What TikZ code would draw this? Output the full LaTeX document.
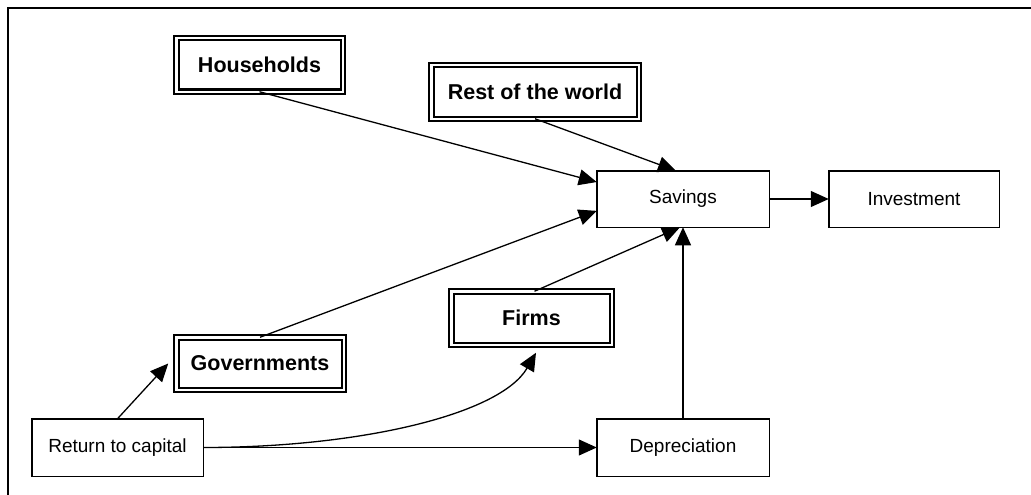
\documentclass[tikz,border=0pt]{standalone}
\usepackage{fontspec}
\setmainfont{Liberation Sans}
\usetikzlibrary{arrows.meta,calc}

\tikzset{
  plainbox/.style={draw, line width=1.5pt, rectangle, inner sep=0pt, outer sep=0pt,
    font=\fontsize{19}{22}\selectfont},
  sectorbox/.style={draw, line width=2pt, double, double distance=2.5pt, rectangle,
    inner sep=0pt, outer sep=0pt, font=\bfseries\fontsize{21.5}{25}\selectfont},
  flow/.style={line width=1.3pt, -{Triangle[length=18pt,width=16pt]}},
}

\begin{document}
\begin{tikzpicture}[x=1pt, y=-1pt]
  \useasboundingbox (0,0) rectangle (1031,495);

  % outer frame (top and left edges)
  \draw[line width=2pt] (8,495) -- (8,8) -- (1031,8);

  % institutional sectors
  \node[sectorbox, minimum width=166.5pt, minimum height=53.5pt] (hh)   at (259.5,65)   {Households};
  \node[sectorbox, minimum width=207.5pt, minimum height=53.5pt] (rest) at (535,92)     {Rest of the world};
  \node[sectorbox, minimum width=167.5pt, minimum height=52.5pt] (gov)  at (260,363.5)  {Governments};
  \node[sectorbox, minimum width=160.5pt, minimum height=53.5pt] (firm) at (531.5,318)  {Firms};

  % flows
  \node[plainbox, minimum width=172.5pt, minimum height=56.5pt] (sav) at (683,199)   {Savings};
  \node[plainbox, minimum width=170.5pt, minimum height=56.5pt] (inv) at (914,199)   {Investment};
  \node[plainbox, minimum width=171.5pt, minimum height=57.5pt] (ret) at (117.5,447.5) {Return to capital};
  \node[plainbox, minimum width=172.5pt, minimum height=57.5pt] (dep) at (683,447.5) {Depreciation};

  % connectors
  \draw[flow] (hh.south)   -- ($(sav.north west)!0.2!(sav.south west)$);
  \draw[flow] (rest.south) -- ($(sav.north)+(-7,0)$);
  \draw[flow] (gov.north)  -- ($(sav.north west)!0.71!(sav.south west)$);
  \draw[flow] ($(firm.north)+(3,0)$) -- ($(sav.south)+(-3,0)$);
  \draw[flow] (dep.north)  -- (sav.south);
  \draw[flow] (sav.east)   -- (inv.west);
  \draw[flow] (ret.north)  -- ($(gov.west)+(-8,0)$);
  \draw[flow] (ret.east)   -- (dep.west);
  \draw[flow] (ret.east) .. controls +(156,0) and +(-36,62) .. ($(firm.south)+(4.5,8)$);
\end{tikzpicture}
\end{document}
